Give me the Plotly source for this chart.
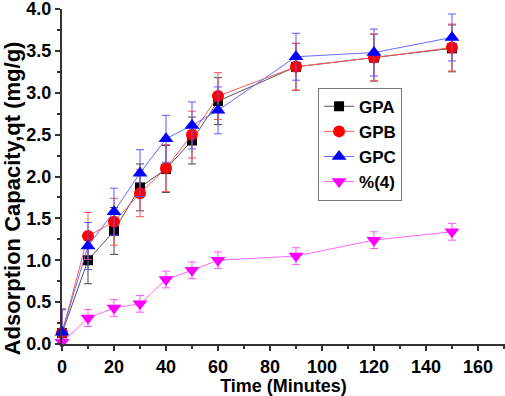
import plotly.graph_objects as go

time = [0, 10, 20, 30, 40, 50, 60, 90, 120, 150]
gpa = [0.13, 1.00, 1.35, 1.87, 2.09, 2.43, 2.90, 3.31, 3.42, 3.53]
gpb = [0.13, 1.29, 1.46, 1.80, 2.10, 2.50, 2.96, 3.31, 3.42, 3.54]
gpc = [0.14, 1.17, 1.58, 2.04, 2.45, 2.61, 2.79, 3.43, 3.48, 3.66]
pct4 = [0.02, 0.31, 0.43, 0.48, 0.77, 0.88, 1.00, 1.05, 1.24, 1.34]

err_gpa = [0.28] * 10
err_gpb = [0.28] * 10
err_gpc = [0.28] * 10
err_pct4 = [0.0] + [0.1] * 9

names = ["GPA", "GPB", "GPC", "%(4)"]

x_ticks = [0, 20, 40, 60, 80, 100, 120, 140, 160]
y_ticks = [0, 0.5, 1.0, 1.5, 2.0, 2.5, 3.0, 3.5, 4.0]
y_ticktext = ["0.0", "0.5", "1.0", "1.5", "2.0", "2.5", "3.0", "3.5", "4.0"]

x_title = "Time (Minutes)"
y_title = "Adsorption Capacity,qt (mg/g)"

FONT = "Liberation Sans, Arial, sans-serif"

series = [
    (names[0], gpa, err_gpa, "#000000", "#555555", "#444444", "square", 10),
    (names[1], gpb, err_gpb, "#ff0000", "#ff5a5a", "#ff5050", "circle", 12),
    (names[2], gpc, err_gpc, "#0000ff", "#6a6aff", "#5a5aff", "triangle-up", 13),
    (names[3], pct4, err_pct4, "#ff00ff", "#ff66ff", "#ff55ff", "triangle-down", 13),
]

fig = go.Figure()
for name, vals, err, mcol, lcol, ecol, sym, size in series:
    fig.add_trace(go.Scatter(
        x=time, y=vals, name=name, mode="lines+markers",
        line=dict(color=lcol, width=1),
        marker=dict(color=mcol, symbol=sym, size=size, line=dict(width=0)),
        error_y=dict(type="data", array=err, visible=True, color=ecol,
                     thickness=1, width=4),
        cliponaxis=False,
    ))

fig.update_layout(
    width=505, height=396,
    margin=dict(l=62, r=0, t=9, b=52, autoexpand=False),
    plot_bgcolor="white", paper_bgcolor="white",
    font=dict(family=FONT, size=18, color="black"),
    showlegend=True,
    legend=dict(
        x=0.578, y=0.765, xanchor="left", yanchor="top",
        bordercolor="#777777", borderwidth=1, bgcolor="white",
        font=dict(family=FONT, size=17, color="black", weight=700),
        tracegroupgap=0, itemsizing="trace",
    ),
    annotations=[dict(
        text=y_title, textangle=-90, xref="paper", yref="paper",
        x=0, y=0.435, xshift=-50, xanchor="center", yanchor="middle",
        showarrow=False, font=dict(family=FONT, size=22, color="black", weight=700),
    )],
)

fig.update_xaxes(
    range=[0, 170.4], tickmode="array", tickvals=x_ticks,
    ticks="outside", ticklen=5, tickwidth=1.5, tickcolor="#333333",
    showline=True, linewidth=2, linecolor="#333333", mirror=False,
    showgrid=False, zeroline=False, automargin=False,
    ticklabeloverflow="allow",
    tickfont=dict(family=FONT, size=18, weight=700),
    minor=dict(ticks="outside", ticklen=3, dtick=10, tick0=0, tickcolor="#333333", showgrid=False),
    title=dict(text=x_title, font=dict(family=FONT, size=18, weight=700), standoff=3),
)
fig.update_yaxes(
    range=[0, 4.0], tickmode="array", tickvals=y_ticks, ticktext=y_ticktext,
    ticks="outside", ticklen=5, tickwidth=1.5, tickcolor="#333333",
    showline=True, linewidth=2, linecolor="#333333", mirror=False,
    showgrid=False, zeroline=False, automargin=False,
    ticklabeloverflow="allow",
    tickfont=dict(family=FONT, size=18, weight=700),
    minor=dict(ticks="outside", ticklen=3, dtick=0.25, tick0=0, tickcolor="#333333", showgrid=False),
)

fig.write_html("out.html", config={"displayModeBar": False},
               post_script="document.body.style.margin='0';")
